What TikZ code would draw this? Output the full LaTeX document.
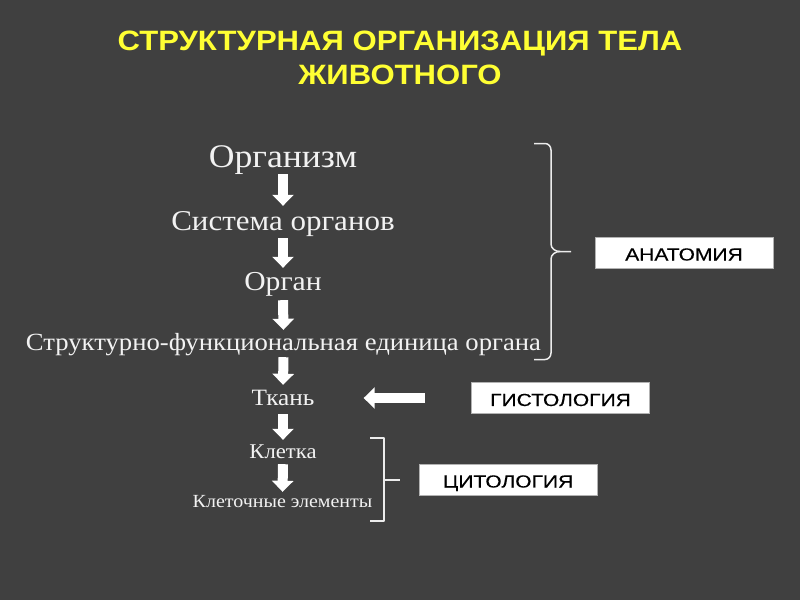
\documentclass[tikz,border=0pt]{standalone}
\usepackage{fontspec}
\setmainfont[FakeStretch=1.08]{Liberation Serif}
\newfontfamily\titlefont[FakeStretch=1.11]{Liberation Sans}
\newfontfamily\boxfont[FakeStretch=1.2,FakeBold=0.3]{Liberation Sans}
\usetikzlibrary{arrows.meta}
\definecolor{bg}{HTML}{404040}
\definecolor{ttl}{HTML}{FFFF33}
\definecolor{itemc}{HTML}{F2F2F2}
\tikzset{
  item/.style={anchor=base, inner sep=0pt, text=itemc},
  blockarrow/.style={draw=white, line width=10pt, -{Triangle[width=21pt,length=11pt]}},
  sciencebox/.style={fill=white, draw=gray!60, line width=1pt, minimum width=178pt, minimum height=31pt, inner sep=0pt, text height=16pt, text depth=0pt, font=\boxfont\fontsize{17.5}{20}\selectfont, text=black},
  bracketline/.style={draw=white!85!gray, line width=1.5pt, line join=round}
}
\begin{document}
\begin{tikzpicture}[x=1pt,y=-1pt]
\fill[bg] (0,0) rectangle (800,600);
\useasboundingbox (0,0) rectangle (800,600);
\node[font=\titlefont\bfseries\fontsize{28}{34}\selectfont, text=ttl, align=center] (title) at (400,58) {СТРУКТУРНАЯ ОРГАНИЗАЦИЯ ТЕЛА\\ЖИВОТНОГО};

\node[item, font=\fontsize{33}{36}\selectfont, text height=24pt, text depth=7pt] (org) at (283,167) {Организм};
\node[item, font=\fontsize{28.7}{32}\selectfont, text height=24pt, text depth=8pt] (sys) at (283,230) {Система органов};
\node[item, font=\fontsize{27.4}{32}\selectfont, text height=22pt, text depth=10pt] (organ) at (283,290) {Орган};
\node[item, font=\fontsize{24.7}{28}\selectfont, text height=20pt, text depth=7pt] (unit) at (283.5,350) {Структурно-функциональная единица органа};
\node[item, font=\fontsize{23.4}{26}\selectfont, text height=20pt, text depth=9pt] (tis) at (283,405) {Ткань};
\node[item, font=\fontsize{21}{24}\selectfont, text height=18pt, text depth=6pt] (cell) at (283,458) {Клетка};
\node[item, font=\fontsize{18.5}{20}\selectfont, text height=15pt, text depth=4pt] (elem) at (282.5,507) {Клеточные элементы};

\draw[blockarrow] (org.south) -- (sys.north);
\draw[blockarrow] (sys.south) -- (organ.north);
\draw[blockarrow] (organ.south) -- (unit.north);
\draw[blockarrow] (unit.south) -- (tis.north);
\draw[blockarrow] (tis.south) -- (cell.north);
\draw[blockarrow] (cell.south) -- (elem.north);

\node[sciencebox] (anat) at (684,252.5) {АНАТОМИЯ};
\node[sciencebox] (hist) at (560.5,398) {ГИСТОЛОГИЯ};
\node[sciencebox] (cyto) at (508,479.5) {ЦИТОЛОГИЯ};

\draw[blockarrow, shorten <=46pt, shorten >=49pt] (hist.west) -- (hist.west -| tis.east);

\draw[bracketline] (534,143.5) -- (545,143.5) to[out=0,in=90] (551,150) -- (551,244)
  to[out=-90,in=180] (560,251.5) -- (571,251.5);
\draw[bracketline] (534,359.5) -- (545,359.5) to[out=0,in=-90] (551,353) -- (551,259)
  to[out=90,in=180] (560,251.5);

\draw[bracketline] (370,438) -- (384,438) -- (384,521) -- (370,521);
\draw[bracketline] (384,480) -- (400,480);
\end{tikzpicture}
\end{document}
